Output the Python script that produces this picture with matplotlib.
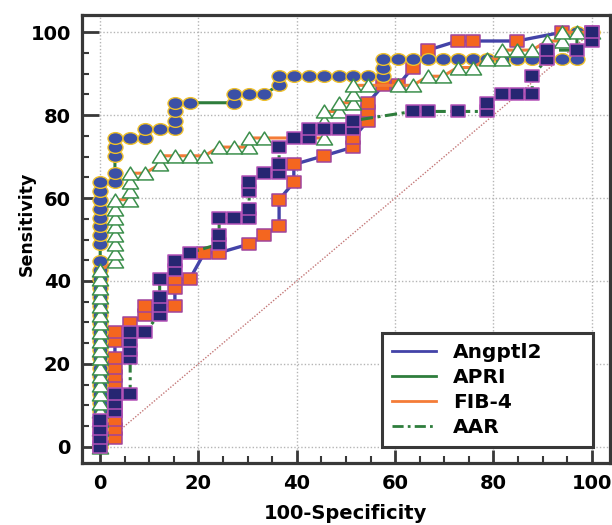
import matplotlib
matplotlib.use('Agg')
import matplotlib.pyplot as plt
import numpy as np
from matplotlib.path import Path
from matplotlib.transforms import Affine2D
from matplotlib.lines import Line2D
from matplotlib.ticker import MultipleLocator

# ---------------- data ----------------
series_names = ["Angptl2", "APRI", "FIB-4", "AAR"]

angptl2_x = [0, 3.0, 3.0, 3.0, 3.0, 3.0, 3.0, 3.0, 3.0, 3.0, 3.0, 3.0, 3.0,
             6.1, 9.1, 9.1, 15.2, 15.2, 15.2, 18.2, 21.2, 24.2, 30.3, 33.3, 36.4, 36.4,
             39.4, 39.4, 45.5, 51.5, 51.5, 54.5, 54.5, 54.5, 57.6, 60.6, 63.6, 66.7,
             72.7, 75.8, 84.8, 93.9, 100]
angptl2_y = [0, 2.1, 4.3, 6.4, 8.5, 10.6, 12.8, 14.9, 17.0, 19.1, 21.3, 25.5, 27.7,
             29.8, 31.9, 34.0, 34.0, 38.3, 40.4, 40.4, 46.8, 46.8, 48.9, 51.1, 53.2, 59.6,
             63.8, 68.1, 70.2, 72.3, 74.5, 78.7, 80.9, 83.0, 87.2, 87.2, 91.5, 95.7,
             97.9, 97.9, 97.9, 100, 100]

apri_x = [0, 0, 0, 0, 0, 0, 0, 0, 0, 0, 0, 0, 0, 0, 0, 0, 0, 0, 0, 0, 0, 0,
          0, 0, 0, 0, 0, 0, 0, 0,
          3.0, 3.0, 3.0, 3.0, 3.0,
          6.1, 9.1, 9.1, 12.1, 15.2, 15.2, 15.2, 15.2, 18.2, 27.3, 27.3, 30.3, 33.3,
          36.4, 36.4, 39.4, 42.4, 45.5, 48.5, 51.5, 54.5, 57.6, 57.6, 57.6,
          60.6, 63.6, 66.7, 69.7, 72.7, 75.8, 78.8, 81.8, 84.8, 87.9, 90.9, 93.9,
          97.0, 97.0, 100]
apri_y = [0, 2.1, 4.3, 6.4, 8.5, 10.6, 12.8, 14.9, 17.0, 19.1, 21.3, 23.4, 25.5,
          27.7, 29.8, 31.9, 34.0, 36.2, 38.3, 40.4, 42.6, 44.7,
          48.9, 51.1, 53.2, 55.3, 57.4, 59.6, 61.7, 63.8,
          63.8, 66.0, 70.2, 72.3, 74.5,
          74.5, 74.5, 76.6, 76.6, 76.6, 78.7, 80.9, 83.0, 83.0, 83.0, 85.1, 85.1, 85.1,
          87.2, 89.4, 89.4, 89.4, 89.4, 89.4, 89.4, 89.4, 89.4, 91.5, 93.6,
          93.6, 93.6, 93.6, 93.6, 93.6, 93.6, 93.6, 93.6, 93.6, 93.6, 93.6, 93.6,
          93.6, 100, 100]

fib4_x = [0, 0, 0, 0, 0, 0, 0, 0, 0, 0, 0, 0, 0, 0, 0, 0, 0, 0, 0, 0, 0,
          3.0, 3.0, 3.0, 3.0, 3.0, 3.0, 3.0, 3.0,
          6.1, 6.1, 6.1, 6.1,
          9.1, 12.1, 12.1, 15.2, 18.2, 21.2, 24.2, 27.3, 30.3, 30.3, 33.3,
          45.5, 45.5, 45.5, 48.5, 48.5, 51.5, 51.5, 51.5, 54.5, 60.6, 63.6,
          66.7, 69.7, 72.7, 75.8, 78.8, 81.8, 81.8, 84.8, 87.9, 90.9, 93.9, 93.9,
          97.0, 100]
fib4_y = [0, 2.1, 4.3, 6.4, 8.5, 10.6, 12.8, 14.9, 17.0, 19.1, 21.3, 23.4, 25.5,
          27.7, 29.8, 31.9, 34.0, 36.2, 38.3, 40.4, 42.6,
          44.7, 46.8, 48.9, 51.1, 53.2, 55.3, 57.4, 59.6,
          59.6, 61.7, 63.8, 66.0,
          66.0, 68.1, 70.2, 70.2, 70.2, 70.2, 72.3, 72.3, 72.3, 74.5, 74.5,
          74.5, 78.7, 80.9, 80.9, 83.0, 83.0, 85.1, 87.2, 87.2, 87.2, 87.2,
          89.4, 89.4, 91.5, 91.5, 93.6, 93.6, 95.7, 95.7, 95.7, 97.9, 97.9, 100,
          100, 100]

aar_x = [0, 0, 0, 0, 3.0, 3.0, 3.0, 6.1, 6.1, 6.1, 6.1, 6.1, 9.1,
         12.1, 12.1, 12.1, 12.1, 15.2, 15.2, 18.2, 24.2, 24.2, 24.2, 27.3,
         30.3, 30.3, 30.3, 30.3, 33.3, 36.4, 36.4, 36.4, 39.4, 42.4, 42.4,
         45.5, 48.5, 51.5, 51.5, 63.6, 66.7, 72.7, 78.8, 78.8, 81.8, 84.8,
         87.9, 87.9, 90.9, 90.9, 97.0, 100, 100]
aar_y = [0, 2.1, 4.3, 6.4, 8.5, 10.6, 12.8, 12.8, 21.3, 23.4, 25.5, 27.7, 27.7,
         31.9, 34.0, 36.2, 40.4, 42.6, 44.7, 46.8, 48.9, 51.1, 55.3, 55.3,
         55.3, 57.4, 61.7, 63.8, 66.0, 66.0, 68.1, 72.3, 74.5, 74.5, 76.6,
         76.6, 76.6, 76.6, 78.7, 80.9, 80.9, 80.9, 80.9, 83.0, 85.1, 85.1,
         85.1, 89.4, 93.6, 95.7, 95.7, 97.9, 100]

diag_x = [0, 100]
diag_y = [0, 100]

# ---------------- marker shapes (slightly wide, as in the picture) ----------------
rect_marker = Path([(-1, -0.82), (1, -0.82), (1, 0.82), (-1, 0.82), (-1, -0.82)],
                   [Path.MOVETO, Path.LINETO, Path.LINETO, Path.LINETO, Path.CLOSEPOLY])
ell_marker = Affine2D().scale(1.0, 0.78).transform_path(Path.unit_circle())
tri_marker = Path([(0, 0.8), (-1, -0.8), (1, -0.8), (0, 0.8)],
                  [Path.MOVETO, Path.LINETO, Path.LINETO, Path.CLOSEPOLY])

c_blue = '#4343a8'
c_green = '#2e7d3c'
c_orange = '#f47c38'

fig = plt.figure(figsize=(6.12, 5.25), dpi=100)
ax = fig.add_axes([0.134, 0.1181, 0.8627, 0.8533])

ax.plot(diag_x, diag_y, linestyle=(0, (1, 1.2)), color='#c47878', lw=1.0, zorder=2)

ax.plot(angptl2_x, angptl2_y, color=c_blue, lw=2.4, marker=rect_marker, ms=10.6,
        mfc='#f4661f', mec='#a0449c', mew=1.1, zorder=3)
ax.plot(apri_x, apri_y, color=c_green, lw=2.2, marker=ell_marker, ms=10.8,
        mfc='#3b50a6', mec='#efc02a', mew=1.0, zorder=4)
ax.plot(fib4_x, fib4_y, color=c_orange, lw=2.2, marker=tri_marker, ms=11.6,
        mfc='white', mec='#3c8f4c', mew=1.1, zorder=5)
ax.plot(aar_x, aar_y, color=c_green, lw=2.2, linestyle=(0, (4, 1.5, 1, 1.5)),
        marker=rect_marker, ms=10.6, mfc='#262672', mec='#b452b8', mew=1.1, zorder=6)

ax.set_xlim(-3.7, 103.72)
ax.set_ylim(-3.93, 104.17)

ax.xaxis.set_major_locator(MultipleLocator(20))
ax.yaxis.set_major_locator(MultipleLocator(20))
ax.xaxis.set_minor_locator(MultipleLocator(5))
ax.yaxis.set_minor_locator(MultipleLocator(5))

ax.grid(True, which='major', color='#b5b5b5', linestyle=(0, (1, 1.5)), linewidth=1.0, zorder=0)
ax.set_axisbelow(True)

for s in ax.spines.values():
    s.set_linewidth(2.3)
    s.set_color('#383838')

ax.tick_params(axis='y', which='major', direction='in', length=12, width=2.0,
               color='#383838', pad=8, labelsize=14)
ax.tick_params(axis='x', which='major', direction='in', length=9.5, width=2.0,
               color='#383838', pad=8, labelsize=14)
ax.tick_params(which='minor', direction='in', length=5, width=1.5, color='#383838')
ax.tick_params(top=False, right=False, which='both')
for lab in ax.get_xticklabels() + ax.get_yticklabels():
    lab.set_fontweight('bold')
    lab.set_family('DejaVu Sans')

ax.set_xlabel('100-Specificity', fontsize=14, fontweight='bold', labelpad=8)
ax.set_ylabel('Sensitivity', fontsize=12.5, fontweight='bold')
ax.yaxis.set_label_coords(-0.087, 0.535)

handles = [
    Line2D([], [], color=c_blue, lw=2.0),
    Line2D([], [], color=c_green, lw=2.0),
    Line2D([], [], color=c_orange, lw=2.0),
    Line2D([], [], color=c_green, lw=2.0, linestyle=(0, (4, 1.5, 1, 1.5))),
]
leg = ax.legend(handles, series_names, loc='upper left',
                bbox_to_anchor=(0.568, 0.290, 0.3996, 0.0), mode='expand',
                fancybox=False, framealpha=1, edgecolor='#383838',
                prop={'weight': 'bold', 'size': 14.5},
                handlelength=2.2, handletextpad=0.85, labelspacing=0.3,
                borderpad=0.5, borderaxespad=0)
leg.get_frame().set_linewidth(2.2)
leg.set_zorder(10)

fig.savefig('out.png', dpi=100)
